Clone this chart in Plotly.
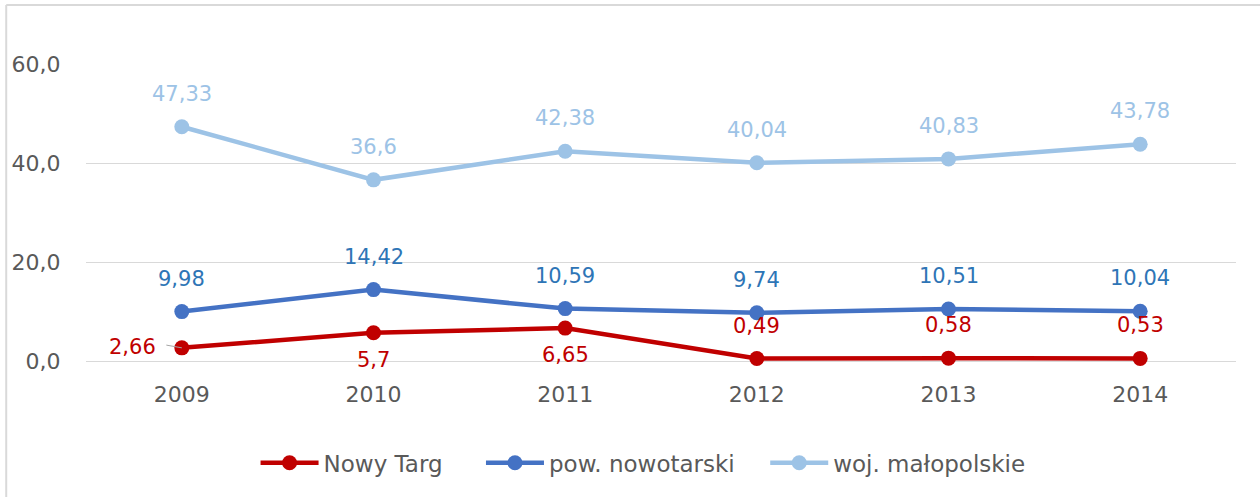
import plotly.graph_objects as go

years = ["2009", "2010", "2011", "2012", "2013", "2014"]
nowy_targ = [2.66, 5.7, 6.65, 0.49, 0.58, 0.53]
pow_nowotarski = [9.98, 14.42, 10.59, 9.74, 10.51, 10.04]
woj_malopolskie = [47.33, 36.6, 42.38, 40.04, 40.83, 43.78]
y_ticks = [0, 20, 40, 60]

series = [
    ("Nowy Targ", nowy_targ, "#C00000", "#C00000",
     ["left", "below", "below", "above", "above", "above"]),
    ("pow. nowotarski", pow_nowotarski, "#4472C4", "#2E75B6",
     ["above"] * 6),
    ("woj. małopolskie", woj_malopolskie, "#9DC3E6", "#9DC3E6",
     ["above"] * 6),
]

# legend entry left edges (pixels) and plot area geometry
legend_px = [259, 485, 770]
PL, PW = 83, 1153

FONT = "DejaVu Sans"
fig = go.Figure()
annotations = []
legend_names = ["legend", "legend2", "legend3"]
for k, (name, vals, col, lcol, pos) in enumerate(series):
    fig.add_trace(go.Scatter(
        x=years, y=vals, name=name, mode="lines+markers",
        line=dict(color=col, width=4.5),
        marker=dict(color=col, size=15),
        cliponaxis=False, legend=legend_names[k],
    ))
    for i, (yv, p) in enumerate(zip(vals, pos)):
        txt = f"{yv:g}".replace(".", ",")
        a = dict(x=i, y=yv, xref="x", yref="y", text=txt, showarrow=False,
                 font=dict(family=FONT, size=21, color=lcol),
                 yanchor="middle")
        if p == "above":
            a.update(xanchor="center", yshift=33)
        elif p == "below":
            a.update(xanchor="center", yshift=-27)
        else:
            a.update(xanchor="right", xshift=-24, yshift=1)
            # small leader line from the label to the point
            annotations.append(dict(x=i, y=yv, xref="x", yref="y", text="",
                                    showarrow=True, arrowhead=0, arrowwidth=1,
                                    arrowcolor="#A6A6A6", ax=-17, ay=-3,
                                    standoff=0))
        annotations.append(a)

# frame lines (top and left) of the original chart box
shapes = [
    dict(type="line", xref="paper", yref="paper",
         x0=(3 - 83) / 1153, x1=1.2, y0=(361 - 5) / 297, y1=(361 - 5) / 297,
         line=dict(color="#D9D9D9", width=2)),
    dict(type="line", xref="paper", yref="paper",
         x0=(3 - 83) / 1153, x1=(3 - 83) / 1153, y0=-0.6, y1=(361 - 5) / 297,
         line=dict(color="#D9D9D9", width=2)),
]

legend_style = dict(orientation="h", xanchor="left", y=-0.343, yanchor="middle",
                    itemwidth=58, bgcolor="rgba(0,0,0,0)",
                    font=dict(family=FONT, size=23, color="#595959"))
legends = {}
for k, ln in enumerate(legend_names):
    d = dict(legend_style)
    d["x"] = (legend_px[k] - 6 - PL) / PW
    legends[ln] = d

fig.update_layout(
    width=1260, height=497,
    margin=dict(l=83, r=24, t=64, b=136),
    paper_bgcolor="white", plot_bgcolor="white",
    separators=", ",
    font=dict(family=FONT, size=21, color="#595959"),
    showlegend=True,
    annotations=annotations,
    shapes=shapes,
    **legends,
)
fig.update_xaxes(
    type="category", range=[-0.5, 5.5], showgrid=False,
    showline=False, zeroline=False,
    ticks="outside", ticklen=14, tickcolor="rgba(0,0,0,0)",
    tickfont=dict(family=FONT, size=22, color="#595959"),
)
fig.update_yaxes(
    range=[0, 60], tickvals=y_ticks, tickformat=".1f",
    showgrid=True, gridcolor="#D9D9D9", gridwidth=1,
    zeroline=True, zerolinecolor="#D9D9D9", zerolinewidth=1,
    showline=False,
    ticks="outside", ticklen=20, tickcolor="rgba(0,0,0,0)",
    tickfont=dict(family=FONT, size=22, color="#595959"),
)

fig.write_html("out.html", config={"displayModeBar": False},
               post_script="document.body.style.margin='0';")
